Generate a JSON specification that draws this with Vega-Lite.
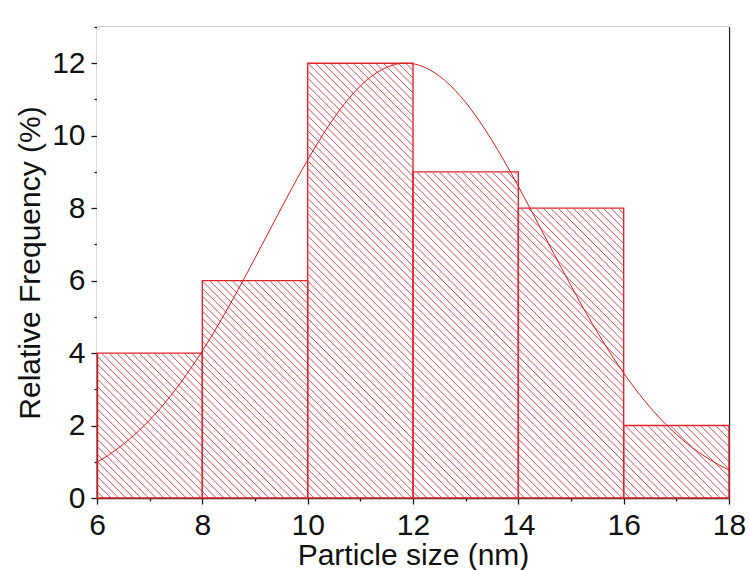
{
  "$schema": "https://vega.github.io/schema/vega-lite/v6.json",
  "width": 632,
  "height": 471,
  "autosize": {"type": "none"},
  "padding": {"left": 97, "top": 27, "right": 20, "bottom": 72},
  "background": "white",
  "config": {
    "view": {"stroke": null},
    "axis": {
      "grid": false,
      "zindex": 1,
      "domainColor": "#1a1a1a",
      "domainWidth": 1.3,
      "tickColor": "#1a1a1a",
      "tickWidth": 1.3,
      "labelFont": "Liberation Sans",
      "labelFontSize": 30,
      "labelColor": "#111111",
      "titleFont": "Liberation Sans",
      "titleFontSize": 30,
      "titleFontWeight": "normal",
      "titleColor": "#111111"
    }
  },
  "datasets": {
    "bins": [
      {"x0": 6, "x1": 8, "f": 4},
      {"x0": 8, "x1": 10, "f": 6},
      {"x0": 10, "x1": 12, "f": 12},
      {"x0": 12, "x1": 14, "f": 9},
      {"x0": 14, "x1": 16, "f": 8},
      {"x0": 16, "x1": 18, "f": 2}
    ],
    "fit": [
      {"x": 6.0, "y": 0.988}, {"x": 6.2, "y": 1.168}, {"x": 6.4, "y": 1.373}, {"x": 6.6, "y": 1.604},
      {"x": 6.8, "y": 1.864}, {"x": 7.0, "y": 2.154}, {"x": 7.2, "y": 2.473}, {"x": 7.4, "y": 2.824},
      {"x": 7.6, "y": 3.206}, {"x": 7.8, "y": 3.619}, {"x": 8.0, "y": 4.060}, {"x": 8.2, "y": 4.530},
      {"x": 8.4, "y": 5.024}, {"x": 8.6, "y": 5.540}, {"x": 8.8, "y": 6.073}, {"x": 9.0, "y": 6.620},
      {"x": 9.2, "y": 7.173}, {"x": 9.4, "y": 7.728}, {"x": 9.6, "y": 8.277}, {"x": 9.8, "y": 8.813},
      {"x": 10.0, "y": 9.331}, {"x": 10.2, "y": 9.821}, {"x": 10.4, "y": 10.277}, {"x": 10.6, "y": 10.692},
      {"x": 10.8, "y": 11.058}, {"x": 11.0, "y": 11.372}, {"x": 11.2, "y": 11.626}, {"x": 11.4, "y": 11.817},
      {"x": 11.6, "y": 11.941}, {"x": 11.8, "y": 11.997}, {"x": 12.0, "y": 11.983}, {"x": 12.2, "y": 11.900},
      {"x": 12.4, "y": 11.748}, {"x": 12.6, "y": 11.531}, {"x": 12.8, "y": 11.253}, {"x": 13.0, "y": 10.918},
      {"x": 13.2, "y": 10.531}, {"x": 13.4, "y": 10.099}, {"x": 13.6, "y": 9.628}, {"x": 13.8, "y": 9.127},
      {"x": 14.0, "y": 8.601}, {"x": 14.2, "y": 8.058}, {"x": 14.4, "y": 7.506}, {"x": 14.6, "y": 6.951},
      {"x": 14.8, "y": 6.400}, {"x": 15.0, "y": 5.858}, {"x": 15.2, "y": 5.331}, {"x": 15.4, "y": 4.824},
      {"x": 15.6, "y": 4.339}, {"x": 15.8, "y": 3.880}, {"x": 16.0, "y": 3.450}, {"x": 16.2, "y": 3.050},
      {"x": 16.4, "y": 2.680}, {"x": 16.6, "y": 2.342}, {"x": 16.8, "y": 2.034}, {"x": 17.0, "y": 1.757},
      {"x": 17.2, "y": 1.508}, {"x": 17.4, "y": 1.288}, {"x": 17.6, "y": 1.093}, {"x": 17.8, "y": 0.922},
      {"x": 18.0, "y": 0.773}
    ]
  },
  "layer": [
    {
      "data": {"values": [{"pattern": "hatch"}]},
      "mark": {
        "type": "point",
        "shape": "M-8,-2.4l4.8,4.8m-4.7248,-4.8l4.8,4.8m-4.7248,-4.8l4.8,4.8m-4.7248,-4.8l4.8,4.8m-4.7248,-4.8l4.8,4.8m-4.7248,-4.8l4.8,4.8m-4.7248,-4.8l4.8,4.8m-4.7248,-4.8l4.8,4.8m-4.7248,-4.8l4.8,4.8m-4.7248,-4.8l4.8,4.8m-4.7248,-4.8l4.8,4.8m-4.7248,-4.8l4.8,4.8m-4.7248,-4.8l4.8,4.8m-4.7248,-4.8l4.8,4.8m-4.7248,-4.8l4.8,4.8m-4.7248,-4.8l4.8,4.8m-4.7248,-4.8l4.8,4.8m-4.7248,-4.8l4.8,4.8m-4.7248,-4.8l4.8,4.8m-4.7248,-4.8l4.8,4.8m-4.7248,-4.8l4.8,4.8m-4.7248,-4.8l4.8,4.8m-4.7248,-4.8l4.8,4.8m-4.7248,-4.8l4.8,4.8m-4.7248,-4.8l4.8,4.8m-4.7248,-4.8l4.8,4.8m-4.7248,-4.8l4.8,4.8m-4.7248,-4.8l4.8,4.8m-4.7248,-4.8l4.8,4.8m-4.7248,-4.8l4.8,4.8m-4.7248,-4.8l4.8,4.8m-4.7248,-4.8l4.8,4.8m-4.7248,-4.8l4.8,4.8m-4.7248,-4.8l4.8,4.8m-4.7248,-4.8l4.8,4.8m-4.7248,-4.8l4.8,4.8m-4.7248,-4.8l4.8,4.8m-4.7248,-4.8l4.8,4.8m-4.7248,-4.8l4.8,4.8m-4.7248,-4.8l4.8,4.8m-4.7248,-4.8l4.8,4.8m-4.7248,-4.8l4.8,4.8m-4.7248,-4.8l4.8,4.8m-4.7248,-4.8l4.8,4.8m-4.7248,-4.8l4.8,4.8m-4.7248,-4.8l4.8,4.8m-4.7248,-4.8l4.8,4.8m-4.7248,-4.8l4.8,4.8m-4.7248,-4.8l4.8,4.8m-4.7248,-4.8l4.8,4.8m-4.7248,-4.8l4.8,4.8m-4.7248,-4.8l4.8,4.8m-4.7248,-4.8l4.8,4.8m-4.7248,-4.8l4.8,4.8m-4.7248,-4.8l4.8,4.8m-4.7248,-4.8l4.8,4.8m-4.7248,-4.8l4.8,4.8m-4.7248,-4.8l4.8,4.8m-4.7248,-4.8l4.8,4.8m-4.7248,-4.8l4.8,4.8m-4.7248,-4.8l4.8,4.8m-4.7248,-4.8l4.8,4.8m-4.7248,-4.8l4.8,4.8m-4.7248,-4.8l4.8,4.8m-4.7248,-4.8l4.8,4.8m-4.7248,-4.8l4.8,4.8m-4.7248,-4.8l4.8,4.8m-4.7248,-4.8l4.8,4.8m-4.7248,-4.8l4.8,4.8m-4.7248,-4.8l4.8,4.8m-4.7248,-4.8l4.8,4.8m-4.7248,-4.8l4.8,4.8m-4.7248,-4.8l4.8,4.8m-4.7248,-4.8l4.8,4.8m-4.7248,-4.8l4.8,4.8m-4.7248,-4.8l4.8,4.8m-4.7248,-4.8l4.8,4.8m-4.7248,-4.8l4.8,4.8m-4.7248,-4.8l4.8,4.8m-4.7248,-4.8l4.8,4.8m-4.7248,-4.8l4.8,4.8m-4.7248,-4.8l4.8,4.8m-4.7248,-4.8l4.8,4.8m-4.7248,-4.8l4.8,4.8m-4.7248,-4.8l4.8,4.8m-4.7248,-4.8l4.8,4.8m-4.7248,-4.8l4.8,4.8m-4.7248,-4.8l4.8,4.8m-4.7248,-4.8l4.8,4.8m-4.7248,-4.8l4.8,4.8m-4.7248,-4.8l4.8,4.8m-4.7248,-4.8l4.8,4.8m-4.7248,-4.8l4.8,4.8m-4.7248,-4.8l4.8,4.8m-4.7248,-4.8l4.8,4.8m-4.7248,-4.8l4.8,4.8m-4.7248,-4.8l4.8,4.8m-4.7248,-4.8l4.8,4.8m-4.7248,-4.8l4.8,4.8m-4.7248,-4.8l4.8,4.8m-4.7248,-4.8l4.8,4.8m-4.7248,-4.8l4.8,4.8m-4.7248,-4.8l4.8,4.8m-4.7248,-4.8l4.8,4.8m-4.7248,-4.8l4.8,4.8m-4.7248,-4.8l4.8,4.8m-4.7248,-4.8l4.8,4.8m-4.7248,-4.8l4.8,4.8m-4.7248,-4.8l4.8,4.8m-4.7248,-4.8l4.8,4.8m-4.7248,-4.8l4.8,4.8m-4.7248,-4.8l4.8,4.8m-4.7248,-4.8l4.8,4.8m-4.7248,-4.8l4.8,4.8m-4.7248,-4.8l4.8,4.8m-4.7248,-4.8l4.8,4.8m-4.7248,-4.8l4.8,4.8m-4.7248,-4.8l4.8,4.8m-4.7248,-4.8l4.8,4.8m-4.7248,-4.8l4.8,4.8m-4.7248,-4.8l4.8,4.8m-4.7248,-4.8l4.8,4.8m-4.7248,-4.8l4.8,4.8m-4.7248,-4.8l4.8,4.8m-4.7248,-4.8l4.8,4.8m-4.7248,-4.8l4.8,4.8m-4.7248,-4.8l4.8,4.8m-4.7248,-4.8l4.8,4.8m-4.7248,-4.8l4.8,4.8m-4.7248,-4.8l4.8,4.8m-4.7248,-4.8l4.8,4.8m-4.7248,-4.8l4.8,4.8m-4.7248,-4.8l4.8,4.8m-4.7248,-4.8l4.8,4.8m-4.7248,-4.8l4.8,4.8m-4.7248,-4.8l4.8,4.8m-4.7248,-4.8l4.8,4.8m-4.7248,-4.8l4.8,4.8m-4.7248,-4.8l4.8,4.8m-4.7248,-4.8l4.8,4.8m-4.7248,-4.8l4.8,4.8m-4.7248,-4.8l4.8,4.8m-4.7248,-4.8l4.8,4.8m-4.7248,-4.8l4.8,4.8m-4.7248,-4.8l4.8,4.8m-4.7248,-4.8",
        "size": 40000,
        "filled": false,
        "stroke": "#d83a48",
        "strokeWidth": 1,
        "opacity": 0.9,
        "clip": true
      },
      "encoding": {
        "x": {"datum": 12, "type": "quantitative", "scale": {"domain": [6, 18], "nice": false, "zero": false}, "axis": null},
        "y": {"datum": 6.5, "type": "quantitative", "scale": {"domain": [0, 13], "nice": false, "zero": false}, "axis": null}
      }
    },
    {
      "data": {"name": "bins"},
      "mark": {"type": "rect", "fill": "white", "stroke": "white", "strokeWidth": 1.5, "clip": true},
      "encoding": {
        "x": {
          "field": "x0", "type": "quantitative",
          "scale": {"domain": [6, 18], "nice": false, "zero": false},
          "axis": {
            "orient": "bottom",
            "values": [6, 7, 8, 9, 10, 11, 12, 13, 14, 15, 16, 17, 18],
            "labelExpr": "datum.value % 2 === 0 ? datum.label : ''",
            "labelOverlap": false,
            "labelFlush": false,
            "labelPadding": 6,
            "tickSize": {"condition": {"test": "datum.value % 2 === 1", "value": 3}, "value": 6},
            "title": "Particle size (nm)",
            "titlePadding": 0
          }
        },
        "x2": {"field": "x1"},
        "y": {
          "field": "f", "type": "quantitative",
          "scale": {"domain": [0, 13], "nice": false, "zero": false},
          "axis": {
            "orient": "left",
            "values": [0, 1, 2, 3, 4, 5, 6, 7, 8, 9, 10, 11, 12, 13],
            "labelExpr": "datum.value % 2 === 0 ? datum.label : ''",
            "labelOverlap": false,
            "labelFlush": false,
            "labelPadding": 6,
            "tickSize": {"condition": {"test": "datum.value % 2 === 1", "value": 3}, "value": 6},
            "title": "Relative Frequency (%)",
            "titlePadding": 6
          }
        },
        "y2": {"datum": 13}
      }
    },
    {
      "data": {"name": "bins"},
      "mark": {"type": "rect", "fillOpacity": 0, "stroke": "#e0242a", "strokeWidth": 1.4},
      "encoding": {
        "x": {
          "field": "x0", "type": "quantitative",
          "scale": {"domain": [6, 18], "nice": false, "zero": false},
          "axis": {"orient": "top", "ticks": false, "labels": false, "title": null}
        },
        "x2": {"field": "x1"},
        "y": {
          "field": "f", "type": "quantitative",
          "scale": {"domain": [0, 13], "nice": false, "zero": false},
          "axis": {"orient": "right", "ticks": false, "labels": false, "title": null}
        },
        "y2": {"datum": 0}
      }
    },
    {
      "data": {"name": "fit"},
      "mark": {"type": "line", "stroke": "#d91e1e", "strokeWidth": 1, "interpolate": "monotone"},
      "encoding": {
        "x": {"field": "x", "type": "quantitative", "scale": {"domain": [6, 18], "nice": false, "zero": false}, "axis": null},
        "y": {"field": "y", "type": "quantitative", "scale": {"domain": [0, 13], "nice": false, "zero": false}, "axis": null}
      }
    }
  ],
  "resolve": {"axis": {"x": "independent", "y": "independent"}}
}
